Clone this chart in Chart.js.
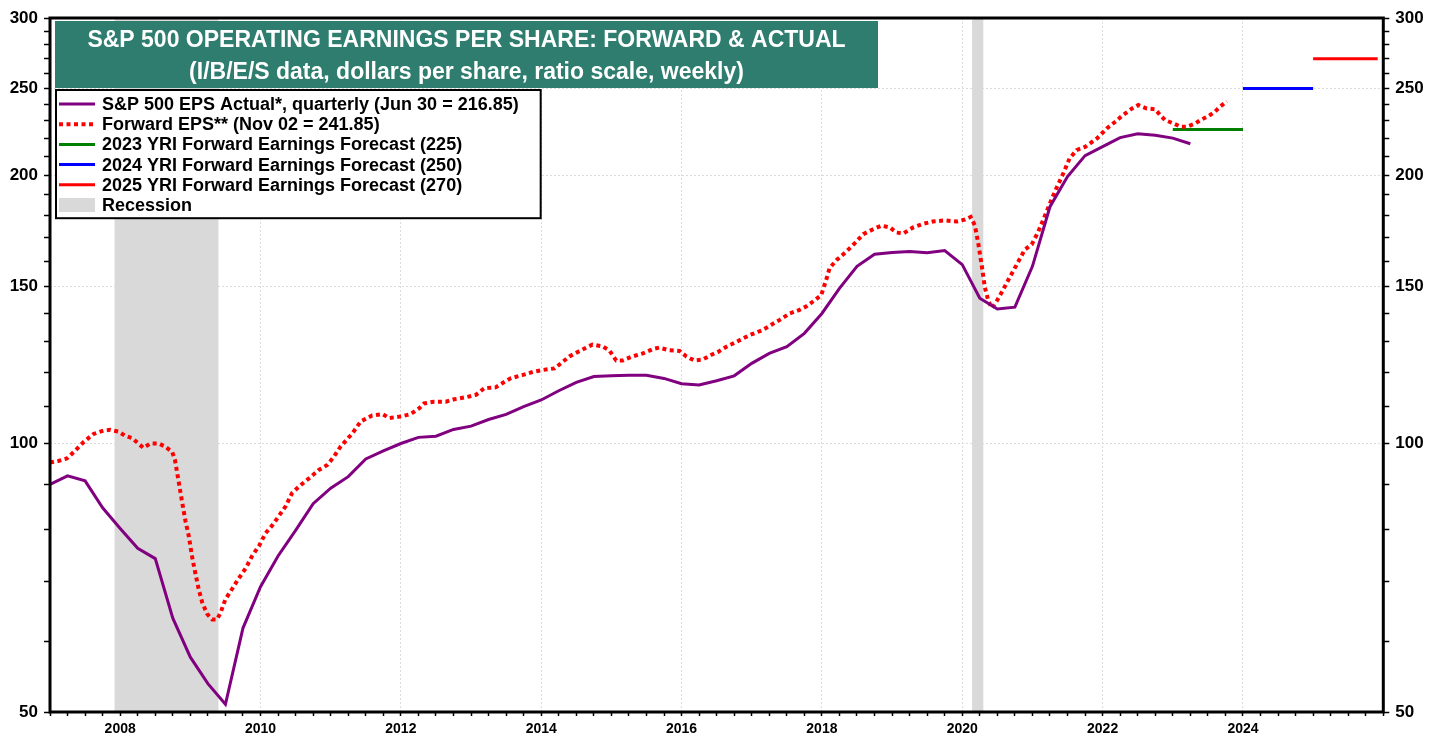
<!DOCTYPE html>
<html lang="en">
<head>
<meta charset="UTF-8">
<title>S&amp;P 500 Operating Earnings Per Share</title>
<script src="https://cdn.jsdelivr.net/npm/chart.js@4.4.0/dist/chart.umd.min.js"></script>
<style>
    body {
        margin: 0;
        background: #fff;
    }
    #wrap {
        width: 1440px;
        height: 743px;
    }
</style>
</head>
<body>
<div id="wrap"><canvas id="eps" width="1440" height="743"></canvas></div>
<script>
// actual operating EPS, quarterly (trailing 4 quarters)
const actualQuarters = [
    '2007Q1', '2007Q2', '2007Q3', '2007Q4', '2008Q1', '2008Q2', '2008Q3', '2008Q4',
    '2009Q1', '2009Q2', '2009Q3', '2009Q4', '2010Q1', '2010Q2', '2010Q3', '2010Q4',
    '2011Q1', '2011Q2', '2011Q3', '2011Q4', '2012Q1', '2012Q2', '2012Q3', '2012Q4',
    '2013Q1', '2013Q2', '2013Q3', '2013Q4', '2014Q1', '2014Q2', '2014Q3', '2014Q4',
    '2015Q1', '2015Q2', '2015Q3', '2015Q4', '2016Q1', '2016Q2', '2016Q3', '2016Q4',
    '2017Q1', '2017Q2', '2017Q3', '2017Q4', '2018Q1', '2018Q2', '2018Q3', '2018Q4',
    '2019Q1', '2019Q2', '2019Q3', '2019Q4', '2020Q1', '2020Q2', '2020Q3', '2020Q4',
    '2021Q1', '2021Q2', '2021Q3', '2021Q4', '2022Q1', '2022Q2', '2022Q3', '2022Q4',
    '2023Q1', '2023Q2'
];
const actualValues = [
    90.0, 92.0, 90.8, 84.7, 80.3, 76.3, 74.3, 63.7,
    57.6, 53.8, 51.0, 62.1, 69.1, 74.8, 79.9, 85.6,
    89.1, 91.8, 96.1, 98.1, 100.0, 101.6, 101.9, 103.7,
    104.6, 106.4, 107.8, 110.0, 111.9, 114.6, 117.1, 118.9,
    119.1, 119.3, 119.3, 118.3, 116.7, 116.3, 117.6, 119.1,
    123.0, 126.2, 128.4, 132.9, 139.9, 149.3, 158.0, 163.0,
    163.8, 164.2, 163.6, 164.6, 158.7, 145.5, 141.5, 142.2,
    158.0, 184.3, 199.2, 210.3, 215.2, 220.3, 222.5, 221.7,
    220.0, 216.85
];

// forward EPS, weekly series (sampled), dates in decimal years
const forwardYears = [
    2007.00, 2007.12, 2007.24, 2007.36, 2007.48, 2007.62, 2007.76, 2007.86, 2007.98,
    2008.07, 2008.17, 2008.26, 2008.33, 2008.43, 2008.55, 2008.64, 2008.74, 2008.78,
    2008.83, 2008.88, 2008.93, 2008.98, 2009.02, 2009.07, 2009.12, 2009.17, 2009.24,
    2009.31, 2009.38, 2009.43, 2009.50, 2009.59, 2009.69, 2009.79, 2009.88, 2009.98,
    2010.07, 2010.17, 2010.26, 2010.36, 2010.45, 2010.57, 2010.69, 2010.83, 2010.95,
    2011.04, 2011.14, 2011.31, 2011.43, 2011.59, 2011.74, 2011.83, 2012.02, 2012.14,
    2012.26, 2012.33, 2012.47, 2012.64, 2012.76, 2012.93, 2013.07, 2013.19, 2013.35,
    2013.45, 2013.57, 2013.73, 2013.88, 2014.02, 2014.19, 2014.28, 2014.40, 2014.59,
    2014.73, 2014.87, 2014.97, 2015.07, 2015.16, 2015.30, 2015.45, 2015.59, 2015.68,
    2015.83, 2015.97, 2016.07, 2016.18, 2016.30, 2016.42, 2016.52, 2016.64, 2016.78,
    2016.97, 2017.16, 2017.28, 2017.40, 2017.54, 2017.68, 2017.78, 2017.90, 2017.99,
    2018.06, 2018.11, 2018.21, 2018.35, 2018.47, 2018.59, 2018.73, 2018.85, 2018.97,
    2019.06, 2019.16, 2019.30, 2019.44, 2019.58, 2019.75, 2019.92, 2020.04, 2020.12,
    2020.18, 2020.23, 2020.28, 2020.32, 2020.37, 2020.42, 2020.49, 2020.58, 2020.68,
    2020.77, 2020.89, 2020.99, 2021.08, 2021.15, 2021.25, 2021.34, 2021.44, 2021.53,
    2021.63, 2021.75, 2021.92, 2022.06, 2022.18, 2022.29, 2022.42, 2022.51, 2022.63,
    2022.75, 2022.82, 2022.89, 2023.01, 2023.11, 2023.20, 2023.32, 2023.41, 2023.51,
    2023.60, 2023.67, 2023.77
];
const forwardValues = [
    95.2, 95.6, 96.2, 98.2, 100.4, 102.5, 103.4, 103.6, 103.1,
    102.0, 101.4, 100.0, 98.9, 100.0, 100.0, 99.2, 97.9, 95.9,
    91.0, 86.2, 81.9, 78.6, 75.0, 71.6, 68.6, 66.3, 64.4,
    63.5, 63.5, 64.6, 66.9, 68.6, 70.6, 72.5, 74.8, 76.8,
    79.3, 81.0, 82.9, 85.1, 88.0, 89.8, 91.4, 93.4, 94.6,
    96.5, 99.2, 102.7, 105.9, 107.5, 107.9, 106.8, 107.3, 107.9,
    109.5, 110.9, 111.4, 111.4, 112.1, 112.7, 113.4, 115.4, 115.6,
    116.9, 118.4, 119.3, 120.3, 120.9, 121.4, 123.0, 125.2, 127.5,
    129.1, 128.5, 127.2, 123.9, 123.9, 125.2, 126.2, 127.6, 128.1,
    127.2, 127.0, 125.2, 123.9, 124.2, 125.7, 126.7, 128.4, 130.0,
    132.3, 134.1, 135.9, 137.6, 139.9, 141.2, 142.5, 144.8, 146.7,
    152.5, 157.3, 160.6, 164.2, 167.8, 171.7, 173.9, 175.5, 174.7,
    172.4, 172.0, 174.7, 176.3, 177.4, 177.9, 177.4, 178.3, 179.5,
    175.6, 167.3, 157.9, 149.9, 144.7, 141.8, 144.4, 148.6, 153.8,
    158.4, 164.9, 167.2, 172.6, 177.9, 185.9, 193.2, 200.9, 208.8,
    213.3, 215.1, 219.8, 225.6, 229.5, 233.5, 237.5, 239.6, 237.5,
    237.0, 233.5, 230.5, 228.5, 226.6, 226.6, 228.5, 230.9, 232.9,
    235.5, 238.5, 241.85
];

// YRI forecasts
const forecastLabels = ['2023', '2024', '2025'];
const forecastValues = [225, 250, 270];
const forecastStart = [2023, 2024, 2025];
const forecastEnd = [2024, 2025, 2025.92];
const forecastColors = ['#008000', '#0000ff', '#ff0000'];

// recessions
const recessionStart = [2007.92, 2020.14];
const recessionEnd = [2009.40, 2020.30];

// axes
const yTicks = [50, 60, 70, 80, 90, 100, 110, 120, 130, 140, 150, 160, 170, 180, 190,
    200, 210, 220, 230, 240, 250, 260, 270, 280, 290, 300];
const yLabels = [50, 100, 150, 200, 250, 300];
const xLabels = [2008, 2010, 2012, 2014, 2016, 2018, 2020, 2022, 2024];

const FONT = "'Liberation Sans', Arial, sans-serif";
const GRID = '#dcdcdc';
const CLEAR = 'rgba(0,0,0,0)';

function quarterToYear(q) {
    return Number(q.slice(0, 4)) + (Number(q.slice(5)) - 1) / 4;
}

const datasets = [{
    label: 'S&P 500 EPS Actual*, quarterly (Jun 30 = 216.85)',
    data: actualQuarters.map((q, i) => ({ x: quarterToYear(q), y: actualValues[i] })),
    borderColor: '#800080',
    borderWidth: 3,
}, {
    label: 'Forward EPS** (Nov 02 = 241.85)',
    data: forwardYears.map((t, i) => ({ x: t, y: forwardValues[i] })),
    borderColor: '#ff0000',
    borderWidth: 4,
    borderDash: [4, 3.5],
    borderCapStyle: 'butt',
}];
forecastValues.forEach((v, i) => {
    datasets.push({
        label: forecastLabels[i] + ' YRI Forward Earnings Forecast (' + v + ')',
        data: [{ x: forecastStart[i], y: v }, { x: forecastEnd[i], y: v }],
        borderColor: forecastColors[i],
        borderWidth: 3,
    });
});
datasets.forEach(d => {
    d.pointRadius = 0;
    d.tension = 0;
    d.fill = false;
    d.yAxisID = 'y';
});

// shading, frame, title box and legend
const decor = {
    id: 'decor',
    beforeDatasetsDraw(chart) {
        const { ctx, chartArea: a, scales: { x } } = chart;
        ctx.save();
        ctx.fillStyle = '#d9d9d9';
        recessionStart.forEach((s, i) => {
            const x0 = x.getPixelForValue(s);
            const x1 = x.getPixelForValue(recessionEnd[i]);
            ctx.fillRect(x0, a.top, x1 - x0, a.bottom - a.top);
        });
        ctx.restore();
    },
    afterDatasetsDraw(chart) {
        const { ctx, chartArea: a } = chart;
        ctx.save();

        // frame
        ctx.strokeStyle = '#000';
        ctx.lineWidth = 3;
        ctx.strokeRect(a.left, a.top, a.right - a.left, a.bottom - a.top);

        // title box
        const tx = a.left + 5, ty = a.top + 3, tw = 823, th = 67;
        ctx.fillStyle = '#2e7d6f';
        ctx.fillRect(tx, ty, tw, th);
        ctx.fillStyle = '#fff';
        ctx.textAlign = 'center';
        ctx.textBaseline = 'middle';
        ctx.font = 'bold 23px ' + FONT;
        ctx.fillText('S&P 500 OPERATING EARNINGS PER SHARE: FORWARD & ACTUAL', tx + tw / 2, ty + 20);
        ctx.fillText('(I/B/E/S data, dollars per share, ratio scale, weekly)', tx + tw / 2, ty + 52);

        // legend
        const lx = a.left + 6, ly = ty + th + 2, rowH = 20.2;
        ctx.font = 'bold 18px ' + FONT;
        const items = chart.data.datasets.map(d => d.label).concat(['Recession']);
        const maxW = Math.max(...items.map(t => ctx.measureText(t).width));
        const lw = 46 + maxW + 22, lh = items.length * rowH + 7;
        ctx.fillStyle = '#fff';
        ctx.fillRect(lx, ly, lw, lh);
        ctx.strokeStyle = '#000';
        ctx.lineWidth = 2;
        ctx.strokeRect(lx, ly, lw, lh);
        ctx.textAlign = 'left';
        items.forEach((t, i) => {
            const yy = ly + 14 + i * rowH;
            const d = chart.data.datasets[i];
            if (d) {
                ctx.strokeStyle = d.borderColor;
                ctx.lineWidth = d.borderWidth;
                ctx.setLineDash(d.borderDash || []);
                ctx.beginPath();
                ctx.moveTo(lx + 3, yy);
                ctx.lineTo(lx + 39, yy);
                ctx.stroke();
                ctx.setLineDash([]);
            } else {
                ctx.fillStyle = '#d9d9d9';
                ctx.fillRect(lx + 3, yy - 7, 36, 14);
            }
            ctx.fillStyle = '#000';
            ctx.fillText(t, lx + 46, yy + 1);
        });
        ctx.restore();
    }
};

function yAxis(position, width) {
    return {
        type: 'logarithmic',
        position: position,
        min: 50,
        max: 300,
        afterBuildTicks: s => { s.ticks = yTicks.map(v => ({ value: v })); },
        afterFit: s => { s.width = width; },
        ticks: {
            autoSkip: false,
            padding: 6,
            color: '#000',
            font: { family: FONT, size: 17, weight: 'bold' },
            callback: v => yLabels.includes(v) ? String(v) : ''
        },
        grid: {
            drawOnChartArea: position === 'left',
            color: c => (c.tick && [100, 150, 200, 250].includes(c.tick.value)) ? GRID : CLEAR,
            tickColor: '#000',
            tickLength: 6,
            tickWidth: 1.5
        },
        border: { display: false, dash: [2, 2] }
    };
}

new Chart(document.getElementById('eps'), {
    type: 'line',
    data: { datasets: datasets },
    options: {
        responsive: false,
        animation: false,
        devicePixelRatio: 1,
        layout: { padding: { top: 18, left: 0, right: 0, bottom: 0 } },
        plugins: { legend: { display: false }, tooltip: { enabled: false } },
        scales: {
            x: {
                type: 'linear',
                min: 2007,
                max: 2026,
                afterBuildTicks: s => {
                    const t = [];
                    for (let q = 2007 * 4; q <= 2026 * 4; q++) t.push({ value: q / 4 });
                    s.ticks = t;
                },
                afterFit: s => { s.height = 31; },
                ticks: {
                    autoSkip: false,
                    maxRotation: 0,
                    padding: 5,
                    color: '#000',
                    font: { family: FONT, size: 14, weight: 'bold' },
                    callback: v => xLabels.includes(v) ? String(v) : ''
                },
                grid: {
                    color: c => (c.tick && xLabels.includes(c.tick.value)) ? GRID : CLEAR,
                    tickColor: '#000',
                    tickLength: 4,
                    tickWidth: 1.5
                },
                border: { display: false, dash: [2, 2] }
            },
            y: yAxis('left', 50),
            y2: yAxis('right', 56.7)
        }
    },
    plugins: [decor]
});
</script>
</body>
</html>
